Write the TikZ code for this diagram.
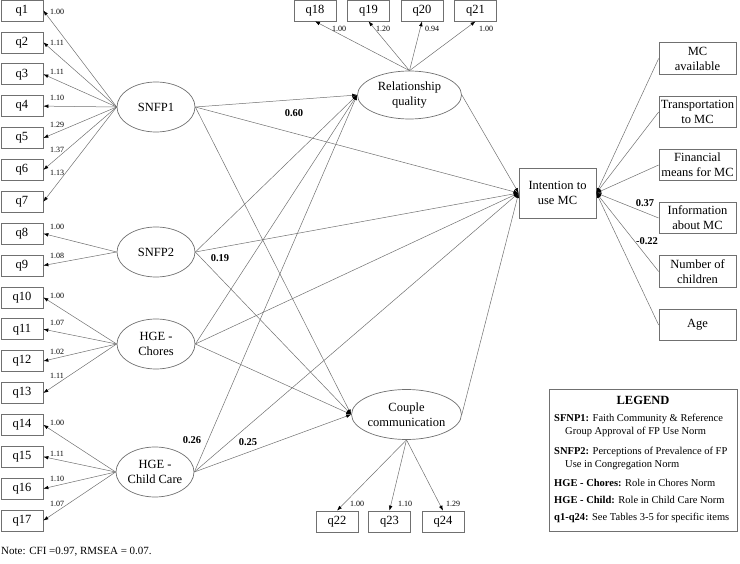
\documentclass[tikz,border=0pt]{standalone}
\usepackage{fontspec}
\setmainfont{Liberation Serif}
\usetikzlibrary{arrows.meta,shapes.geometric}
\definecolor{ln}{HTML}{707070}
\begin{document}
\begin{tikzpicture}[x=1pt,y=-1pt,
  every node/.style={font=\rmfamily\fontsize{12.5}{15}\selectfont, inner sep=0pt, text=black},
  qbox/.style={draw=ln, line width=0.7pt, minimum width=42pt, minimum height=21pt},
  sidebox/.style={draw=ln, line width=0.7pt, minimum width=77pt, minimum height=31.5pt, align=center},
  lat/.style={ellipse, draw=ln, line width=0.7pt, minimum width=78pt, minimum height=50pt, align=center},
  conn/.style={draw=ln, line width=0.5pt, -{Latex[length=5pt,width=3.6pt,color=black]}},
  lod/.style={font=\rmfamily\fontsize{8}{9}\selectfont},
  coef/.style={font=\rmfamily\bfseries\fontsize{10.5}{12}\selectfont},
  legtxt/.style={anchor=west, font=\rmfamily\fontsize{10.5}{12}\selectfont}]
\useasboundingbox (0,0) rectangle (740,564);

% left indicator boxes
\foreach \i in {1,...,17} {
  \node[qbox] (q\i) at (22,{10.5+31.875*(\i-1)}) {q\i};
}
% top and bottom indicator boxes
\node[qbox] (q18) at (315,10.5) {q18};
\node[qbox] (q19) at (368.5,10.5) {q19};
\node[qbox] (q20) at (422,10.5) {q20};
\node[qbox] (q21) at (475.5,10.5) {q21};
\node[qbox] (q22) at (337,521.5) {q22};
\node[qbox] (q23) at (389.5,521.5) {q23};
\node[qbox] (q24) at (443,521.5) {q24};

% latent variables
\node[lat] (s1) at (156,107) {SNFP1};
\node[lat] (s2) at (156,252) {SNFP2};
\node[lat] (hc) at (156,344) {HGE -\\Chores};
\node[lat] (hk) at (155,472) {HGE -\\Child Care};
\node[lat, minimum width=104pt, minimum height=48pt] (rq) at (409.5,95) {Relationship\\quality};
\node[lat, minimum width=102pt] (cc) at (406.5,414.5) {Couple\\communication};

% outcome
\node[sidebox, minimum height=50pt] (it) at (557.5,193) {Intention to\\use MC};

% covariates
\node[sidebox] (c1) at (697.5,58.5) {MC\\available};
\node[sidebox] (c2) at (697.5,112) {Transportation\\to MC};
\node[sidebox] (c3) at (697.5,165) {Financial\\means for MC};
\node[sidebox] (c4) at (697.5,218) {Information\\about MC};
\node[sidebox] (c5) at (697.5,271.5) {Number of\\children};
\node[sidebox] (c6) at (697.5,325) {Age};

% loadings
\foreach \i in {1,...,7} { \draw[conn] (s1.west) -- (q\i.east); }
\foreach \i in {8,9} { \draw[conn] (s2.west) -- (q\i.east); }
\foreach \i in {10,...,13} { \draw[conn] (hc.west) -- (q\i.east); }
\foreach \i in {14,...,17} { \draw[conn] (hk.west) -- (q\i.east); }
\foreach \i in {18,...,21} { \draw[conn] (rq.north) -- (q\i.south); }
\foreach \i in {22,23,24} { \draw[conn] (cc.south) -- (q\i.north); }

% structural paths
\foreach \s in {s1,s2,hc,hk} {
  \draw[conn] (\s.east) -- (rq.west);
  \draw[conn] (\s.east) -- (cc.west);
  \draw[conn] (\s.east) -- (it.west);
}
\draw[conn] (rq.east) -- (it.west);
\draw[conn] (cc.east) -- (it.west);
\foreach \c in {c1,c2,c3,c4,c5,c6} { \draw[conn] (\c.west) -- (it.east); }

% loading labels
\foreach \y/\t in {12/1.00,43/1.11,72/1.11,98/1.10,125/1.29,150/1.37,173/1.13,
                   227/1.00,256/1.08,296/1.00,323/1.07,352/1.02,376/1.11,
                   423/1.00,454/1.11,479/1.10,504/1.07} {
  \node[lod] at (57,\y) {\t};
}
\node[lod] at (339,29) {1.00};
\node[lod] at (383,29) {1.20};
\node[lod] at (432,29) {0.94};
\node[lod] at (486,29) {1.00};
\node[lod] at (357,504) {1.00};
\node[lod] at (405,504) {1.10};
\node[lod] at (453,504) {1.29};

% coefficients
\node[coef] at (294,113) {0.60};
\node[coef] at (220,258) {0.19};
\node[coef] at (192,440) {0.26};
\node[coef] at (248,442) {0.25};
\node[coef] at (645,203) {0.37};
\node[coef] at (647,241) {-0.22};

% legend
\node[draw=ln, line width=0.7pt, minimum width=188pt, minimum height=142pt] (leg) at (643,460) {};
\node[font=\rmfamily\bfseries\fontsize{12.5}{15}\selectfont] (lh) at (643,400) {LEGEND};
\node[legtxt] (l1) at (554,419) {\textbf{SFNP1:} Faith Community \& Reference};
\node[legtxt] (l2) at (565,432) {Group Approval of FP Use Norm};
\node[legtxt] (l3) at (554,452) {\textbf{SNFP2:} Perceptions of Prevalence of FP};
\node[legtxt] (l4) at (565,465) {Use in Congregation Norm};
\node[legtxt] (l5) at (554,483) {\textbf{HGE - Chores:} Role in Chores Norm};
\node[legtxt] (l6) at (554,500) {\textbf{HGE - Child:} Role in Child Care Norm};
\node[legtxt] (l7) at (554,518) {\textbf{q1-q24:} See Tables 3-5 for specific items};

% note
\node[anchor=west, font=\rmfamily\fontsize{11}{13}\selectfont] (note) at (1,552) {Note: CFI =0.97, RMSEA = 0.07.};
\end{tikzpicture}
\end{document}
